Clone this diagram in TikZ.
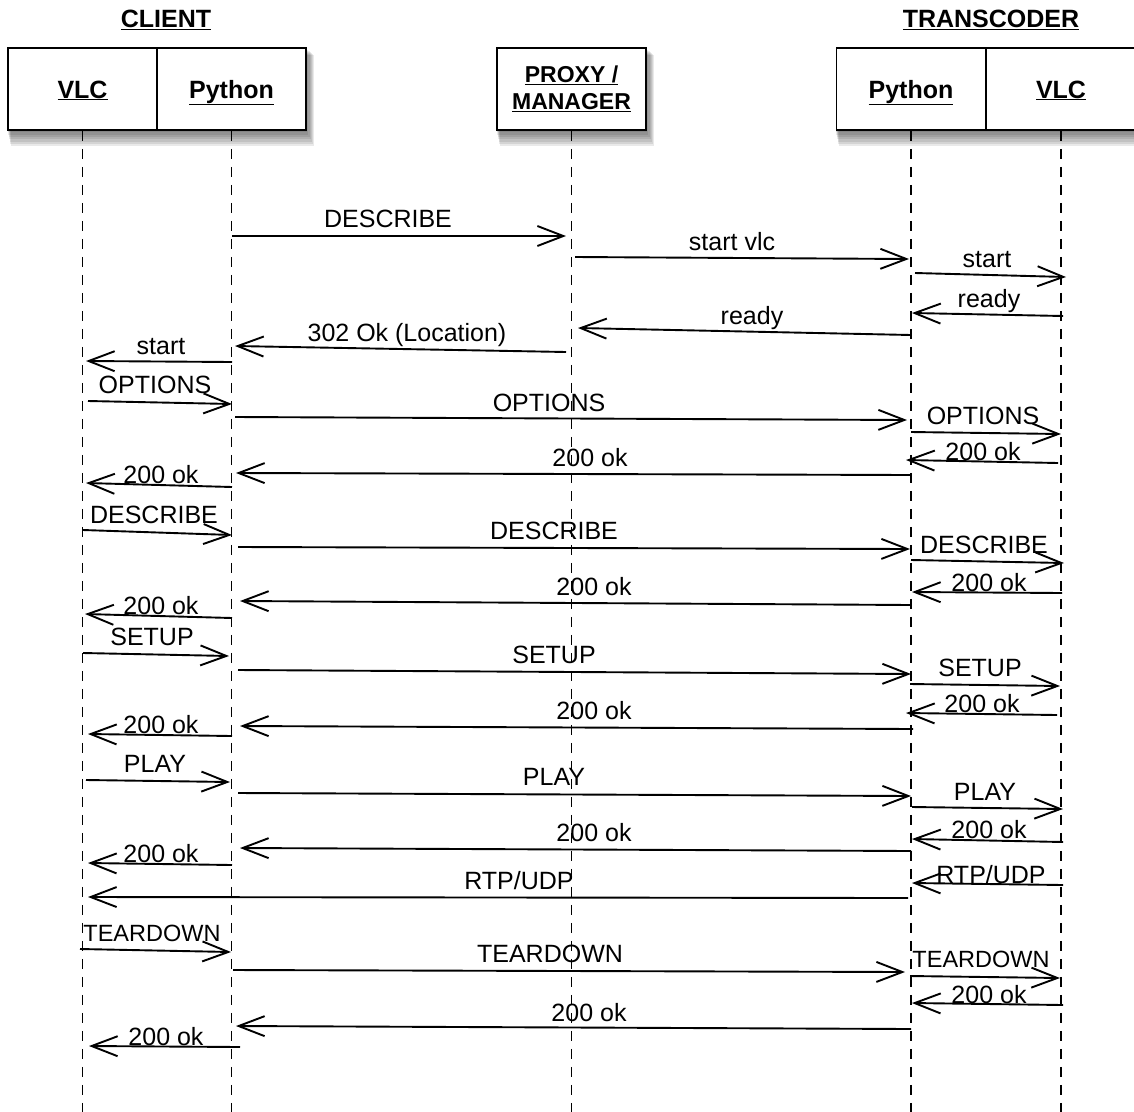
\documentclass[tikz,border=0pt]{standalone}
\usepackage{fontspec}
\setmainfont{Liberation Sans}
\usetikzlibrary{arrows.meta}
\tikzset{
  box/.style={draw, line width=1.5pt, fill=white, minimum width=149pt, minimum height=82pt, inner sep=0pt,
    font=\bfseries\fontsize{25}{28}\selectfont, align=center},
  onebox/.style={box, text height=18pt, text depth=0pt},
  title/.style={font=\bfseries\fontsize{25}{28}\selectfont},
  life/.style={line width=1.8pt, dash pattern=on 10pt off 8pt},
  msg/.style={line width=1.9pt, -{Straight Barb[length=26pt, width=20pt, line width=1.9pt]}},
  lbl/.style={anchor=base, inner sep=0pt, font=\fontsize{25}{30}\selectfont},
  slbl/.style={lbl, font=\fontsize{23.5}{27}\selectfont},
  shadowlayer/.style={fill=black, opacity=0.085, draw=none}
}
\newcommand\msg[8]{%
  \coordinate (#1s) at (#2,#3);
  \coordinate (#1e) at (#4,#5);
  \draw[msg] (#1s) -- (#1e) node[lbl] (#1l) at (#7,#8) {#6};}
\newcommand\smsg[8]{%
  \coordinate (#1s) at (#2,#3);
  \coordinate (#1e) at (#4,#5);
  \draw[msg] (#1s) -- (#1e) node[slbl] (#1l) at (#7,#8) {#6};}
\begin{document}
\begin{tikzpicture}[x=1pt, y=-1pt]
\useasboundingbox[fill=white] (0,0) rectangle (1134,1111);
% shadows
\foreach \i in {1,...,7} {
  \fill[shadowlayer] (8-1+0.5*\i,48+\i) rectangle (306+1.2*\i,130+2.3*\i);
  \fill[shadowlayer] (497-1+0.5*\i,48+\i) rectangle (646+1.2*\i,130+2.3*\i);
  \fill[shadowlayer] (836-1+0.5*\i,48+\i) rectangle (1140,130+2.3*\i);
}
% titles
\node[title] (tclient) at (166,20) {\underline{CLIENT}};
\node[title] (ttrans) at (991,20) {\underline{TRANSCODER}};
% boxes
\node[onebox] (cvlc) at (82.5,89) {\underline{VLC}};
\node[onebox] (cpy) at (231.5,89) {\underline{Python}};
\node[box, font=\bfseries\fontsize{23}{27}\selectfont] (proxy) at (571.5,89) {\underline{PROXY /}\\\underline{MANAGER}};
\node[onebox] (tpy) at (911,89) {\underline{Python}};
\node[onebox] (tvlc) at (1061,89) {\underline{VLC}};
% lifelines
\foreach \n in {cvlc,cpy,proxy,tpy,tvlc} {
  \draw[life] (\n.south) -- ++(0,990);
}
% messages
\msg{m1}{232}{236}{566}{236}{DESCRIBE}{388}{227}
\msg{m2}{575}{257}{909}{259}{start vlc}{732}{250}
\msg{m3}{915}{273}{1066}{277}{start}{987}{267}
\msg{m4}{1063}{316}{912}{313}{ready}{989}{307}
\msg{m5}{911}{335}{578}{328}{ready}{752}{324}
\msg{m6}{566}{352}{235}{346}{302 Ok (Location)}{407}{341}
\msg{m7}{232}{362}{86}{361}{start}{161}{354}
\msg{m8}{88}{401}{232}{404}{OPTIONS}{155}{393}
\msg{m9}{235}{417}{907}{420}{OPTIONS}{549}{411}
\msg{m10}{911}{432}{1061}{434}{OPTIONS}{983}{424}
\msg{m11}{1058}{463}{906}{460}{200 ok}{983}{460}
\msg{m12}{911}{475}{236}{473}{200 ok}{590}{466}
\msg{m13}{232}{487}{86}{483}{200 ok}{161}{483}
\msg{m14}{83}{530}{232}{535}{DESCRIBE}{154}{523}
\msg{m15}{238}{547}{910}{549}{DESCRIBE}{554}{539}
\msg{m16}{911}{560}{1064}{563}{DESCRIBE}{984}{553}
\msg{m17}{1062}{593}{912}{592}{200 ok}{989}{591}
\msg{m18}{911}{605}{240}{601}{200 ok}{594}{595}
\msg{m19}{232}{618}{85}{614}{200 ok}{161}{614}
\msg{m20}{83}{653}{229}{656}{SETUP}{152}{645}
\msg{m21}{238}{670}{911}{674}{SETUP}{554}{663}
\msg{m22}{910}{684}{1060}{686}{SETUP}{980}{676}
\msg{m23}{1057}{715}{906}{713}{200 ok}{982}{712}
\msg{m24}{913}{729}{240}{726}{200 ok}{594}{719}
\msg{m25}{232}{736}{88}{734}{200 ok}{161}{733}
\msg{m26}{86}{780}{230}{782}{PLAY}{155}{772}
\msg{m27}{238}{793}{911}{796}{PLAY}{554}{785}
\msg{m28}{912}{807}{1063}{809}{PLAY}{985}{800}
\msg{m29}{1063}{842}{912}{839}{200 ok}{989}{838}
\msg{m30}{911}{851}{240}{848}{200 ok}{594}{841}
\msg{m31}{232}{865}{88}{863}{200 ok}{161}{862}
\msg{m32}{1063}{885}{912}{883}{RTP/UDP}{991}{883}
\msg{m33}{908}{898}{88}{897}{RTP/UDP}{519}{889}
\smsg{m34}{80}{949}{231}{952}{TEARDOWN}{152}{941}
\msg{m35}{233}{970}{905}{972}{TEARDOWN}{550}{962}
\smsg{m36}{910}{976}{1060}{978}{TEARDOWN}{981}{967}
\msg{m37}{1063}{1005}{912}{1003}{200 ok}{989}{1003}
\msg{m38}{911}{1029}{236}{1026}{200 ok}{589}{1021}
\msg{m39}{240}{1047}{89}{1046}{200 ok}{166}{1045}
\end{tikzpicture}
\end{document}
